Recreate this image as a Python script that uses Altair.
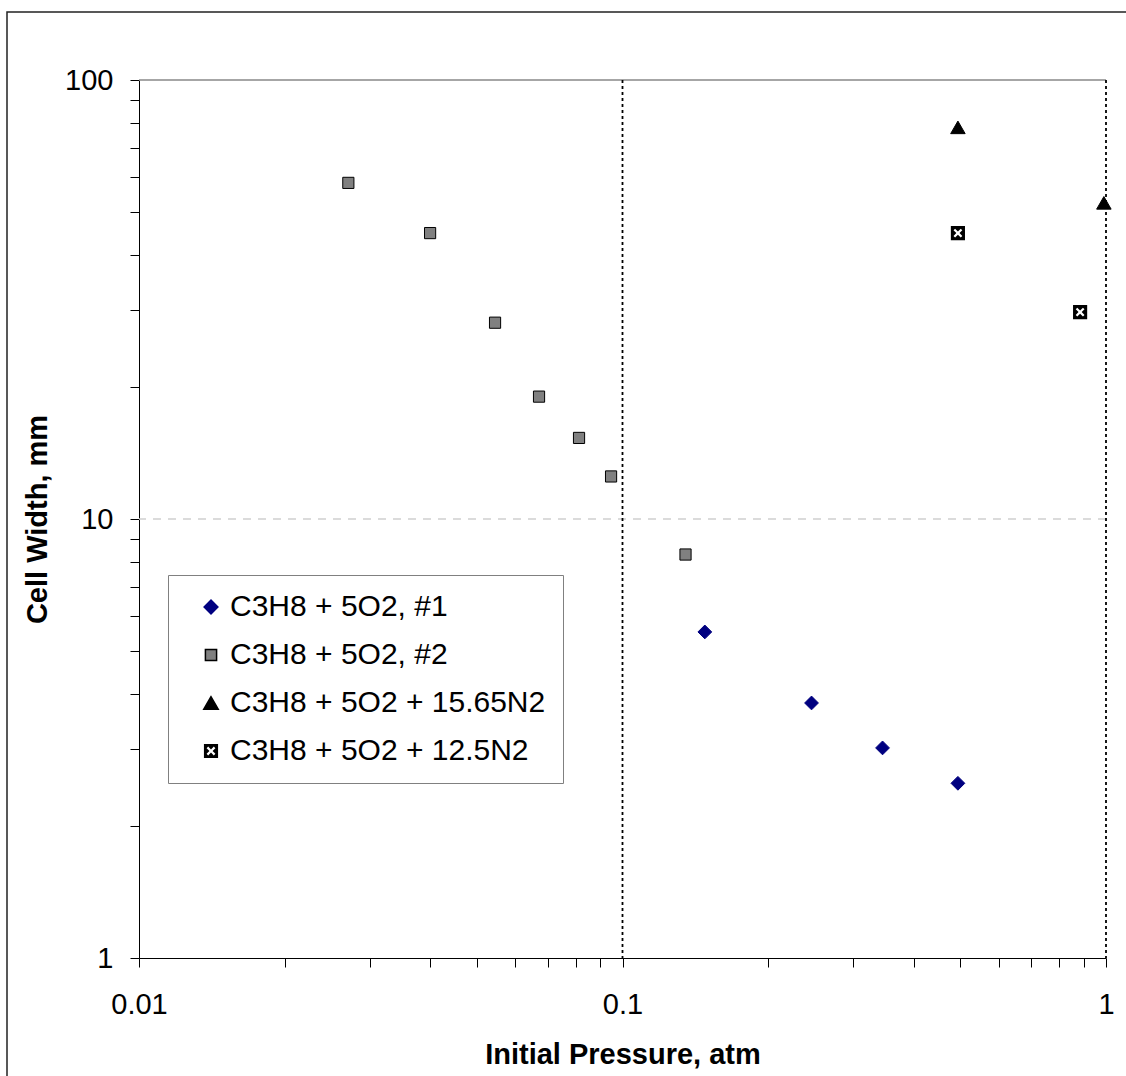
import altair as alt
import pandas as pd

# ---- data ----
series_names = ["C3H8 + 5O2, #1", "C3H8 + 5O2, #2",
                "C3H8 + 5O2 + 15.65N2", "C3H8 + 5O2 + 12.5N2"]

s1_p = [0.148, 0.246, 0.345, 0.494]
s1_w = [5.53, 3.81, 3.01, 2.50]

s2_p = [0.0271, 0.0400, 0.0545, 0.0672, 0.0813, 0.0947, 0.135]
s2_w = [58.3, 44.8, 28.0, 19.0, 15.3, 12.5, 8.3]

s3_p = [0.494, 0.99]
s3_w = [78.0, 52.5]

s4_p = [0.494, 0.884]
s4_w = [44.8, 29.6]

x_ticks = [0.01, 0.02, 0.03, 0.04, 0.05, 0.06, 0.07, 0.08, 0.09,
           0.1, 0.2, 0.3, 0.4, 0.5, 0.6, 0.7, 0.8, 0.9, 1]
y_ticks = [1, 2, 3, 4, 5, 6, 7, 8, 9,
           10, 20, 30, 40, 50, 60, 70, 80, 90, 100]
v_grid = [0.1, 1]
h_grid_light = [10]
h_grid_top = [100]

rows = []
for name, ps, ws in zip(series_names, [s1_p, s2_p, s3_p, s4_p], [s1_w, s2_w, s3_w, s4_w]):
    for p, w in zip(ps, ws):
        rows.append({"series": name, "p": p, "w": w})
df = pd.DataFrame(rows)

FONT = "Liberation Sans"

# square with an X-shaped hole (opposite winding)
xsq = ("M-1,-1H1V1H-1Z "
       "M-0.62,-0.4L-0.22,0L-0.62,0.4L-0.4,0.62L0,0.22L0.4,0.62L0.62,0.4"
       "L0.22,0L0.62,-0.4L0.4,-0.62L0,-0.22L-0.4,-0.62Z")

major_expr = "abs(log(datum.value)/LN10 - round(log(datum.value)/LN10)) < 1e-6 ? format(datum.value, '~g') : ''"

xscale = alt.Scale(type="log", domain=[0.01, 1], nice=False)
yscale = alt.Scale(type="log", domain=[1, 100], nice=False)

xaxis = alt.Axis(values=x_ticks, labelExpr=major_expr, title="Initial Pressure, atm",
                 grid=False, tickSize=9, tickColor="black", domainColor="black",
                 labelPadding=23, labelFontSize=29, labelFont=FONT, labelColor="black",
                 labelFlush=False, labelOverlap=False,
                 titleFontSize=29, titleFont=FONT, titleFontWeight="bold", titleColor="black",
                 titleX=483.5, titleY=105, titleBaseline="alphabetic", titleAlign="center")
yaxis = alt.Axis(values=y_ticks, labelExpr=major_expr, title="Cell Width, mm",
                 grid=False, tickSize=9, tickColor="black", domainColor="black",
                 labelPadding=17, labelFontSize=29, labelFont=FONT, labelColor="black",
                 labelFlush=False, labelOverlap=False, labelBaseline="middle",
                 titleFontSize=29, titleFont=FONT, titleFontWeight="bold", titleColor="black",
                 titleX=-93, titleY=439, titleAngle=-90, titleBaseline="alphabetic",
                 titleAlign="center")

X = alt.X("p:Q", scale=xscale, axis=xaxis)
Y = alt.Y("w:Q", scale=yscale, axis=yaxis)

border = alt.Chart(pd.DataFrame({"a": [0]})).mark_rect(
    fill="transparent", stroke="#222222", strokeWidth=1.5
).encode(x=alt.value(-132), x2=alt.value(1300), y=alt.value(-68), y2=alt.value(1300))

vrules = alt.Chart(pd.DataFrame({"p": v_grid})).mark_rule(
    color="black", strokeDash=[3, 3], strokeWidth=1.8
).encode(x=X)

hrule_light = alt.Chart(pd.DataFrame({"w": h_grid_light})).mark_rule(
    color="#cfcfcf", strokeDash=[8, 7], strokeWidth=1.5
).encode(y=Y)

hrule_top = alt.Chart(pd.DataFrame({"w": h_grid_top})).mark_rule(
    color="#888888", strokeWidth=1.5
).encode(y=Y)

legend = alt.Legend(title=None, orient="none", legendX=29, legendY=495,
                    labelFont=FONT, labelFontSize=30, labelColor="black", labelLimit=0,
                    padding=17, rowPadding=18, symbolOffset=11, labelOffset=4,
                    strokeColor="#808080", fillColor="white", symbolOpacity=1)

points = alt.Chart(df).mark_point(filled=True, opacity=1, strokeWidth=1).encode(
    x=X, y=Y,
    shape=alt.Shape("series:N", scale=alt.Scale(domain=series_names,
                    range=["diamond", "square", "triangle-up", xsq]), legend=legend),
    fill=alt.Fill("series:N", scale=alt.Scale(domain=series_names,
                  range=["#000080", "#808080", "#000000", "#000000"]), legend=legend),
    stroke=alt.Stroke("series:N", scale=alt.Scale(domain=series_names,
                      range=["#000080", "#000000", "#000000", "transparent"]), legend=legend),
    size=alt.Size("series:N", scale=alt.Scale(type="ordinal", domain=series_names,
                  range=[190, 125, 210, 200]), legend=legend),
)

chart = alt.layer(border, hrule_light, hrule_top, vrules, points).properties(
    width=967, height=878,
    autosize=alt.AutoSizeParams(type="none"),
    padding={"left": 139, "top": 80, "right": 20, "bottom": 118},
).configure(font=FONT).configure_view(stroke=None)

chart.save("out.html", embed_options={"renderer": "svg", "actions": False})
